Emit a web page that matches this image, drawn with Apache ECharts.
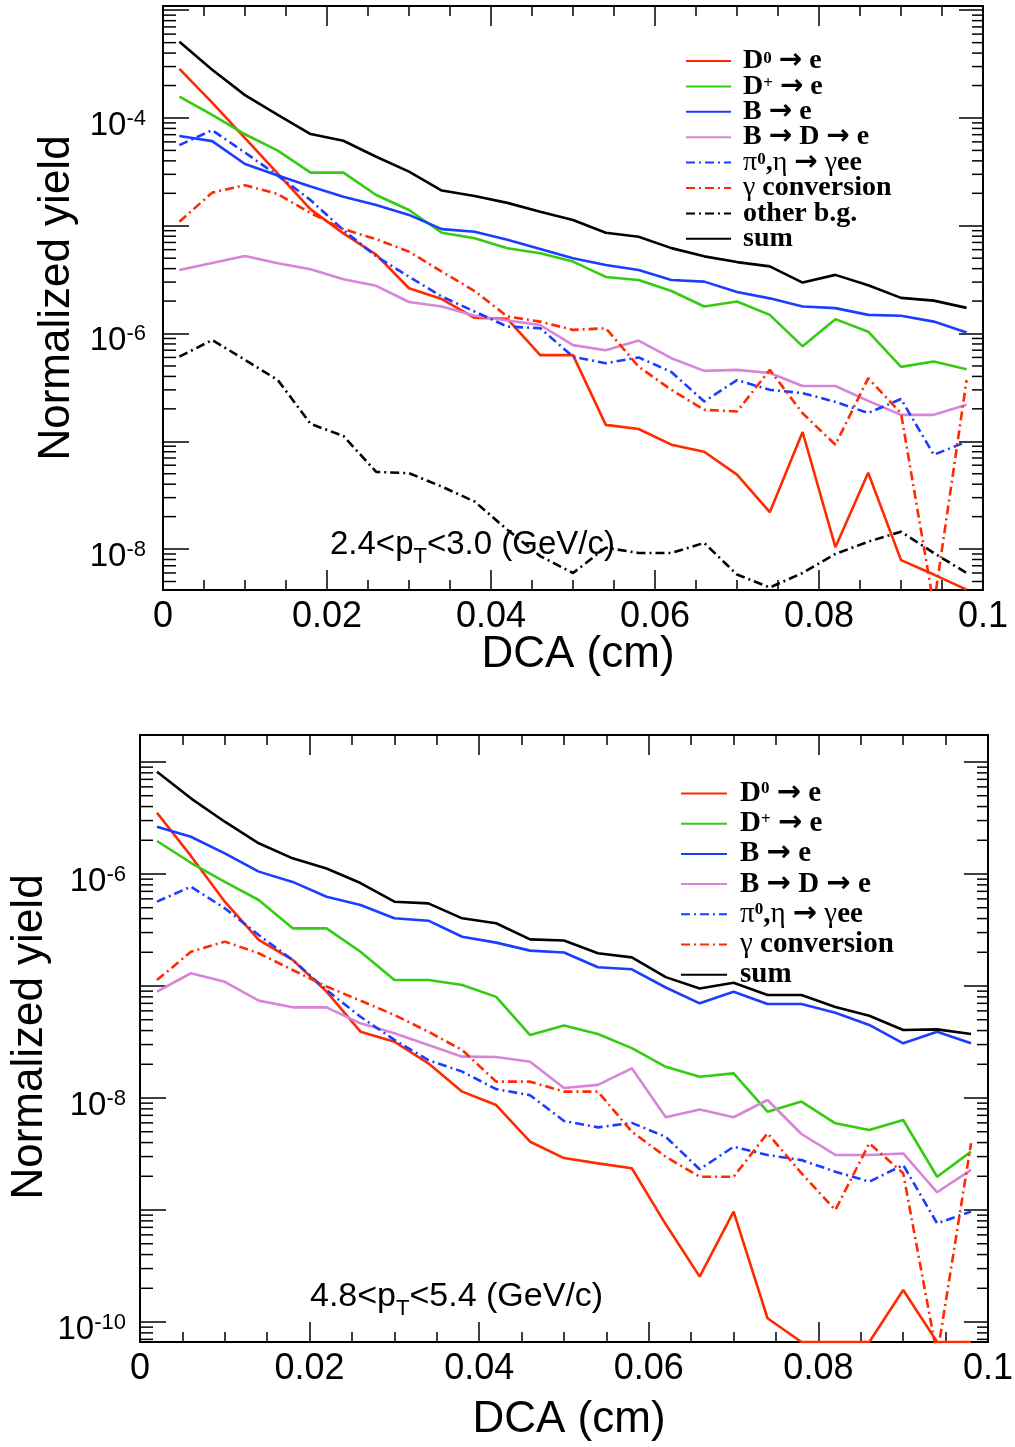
<!DOCTYPE html>
<html>
<head>
<meta charset="utf-8">
<script src="https://cdn.jsdelivr.net/npm/echarts@6/dist/echarts.min.js"></script>
<style>
html,body{margin:0;padding:0;background:#fff;}
#c{width:1015px;height:1447px;}
</style>
</head>
<body>
<div id="c"></div>
<script>
// ---------------- DATA ----------------
const dca = [0.002,0.006,0.010,0.014,0.018,0.022,0.026,0.030,0.034,0.038,0.042,0.046,0.050,
             0.054,0.058,0.062,0.066,0.070,0.074,0.078,0.082,0.086,0.090,0.094,0.098];
const xTickLabels = ['0','0.02','0.04','0.06','0.08','0.1'];

// 2.4 < pT < 3.0 GeV/c
const lowD0    = [2.85e-4,1.39e-4,6.5e-5,3.04e-5,1.42e-5,8.5e-6,5.4e-6,2.63e-6,2.09e-6,1.40e-6,1.37e-6,6.3e-7,6.3e-7,1.42e-7,1.30e-7,9.3e-8,8.0e-8,4.9e-8,2.2e-8,1.22e-7,1.04e-8,5.1e-8,7.9e-9,5.8e-9,4.2e-9];
const lowDp    = [1.58e-4,1.07e-4,7.06e-5,4.98e-5,3.11e-5,3.11e-5,1.93e-5,1.40e-5,8.6e-6,7.66e-6,6.18e-6,5.55e-6,4.65e-6,3.35e-6,3.14e-6,2.48e-6,1.78e-6,1.98e-6,1.49e-6,7.6e-7,1.36e-6,1.04e-6,4.9e-7,5.5e-7,4.67e-7];
const lowB     = [6.8e-5,6.1e-5,3.74e-5,2.93e-5,2.31e-5,1.86e-5,1.56e-5,1.26e-5,9.3e-6,8.8e-6,7.4e-6,6.1e-6,5.0e-6,4.33e-6,3.89e-6,3.14e-6,3.03e-6,2.43e-6,2.12e-6,1.78e-6,1.72e-6,1.49e-6,1.46e-6,1.29e-6,1.02e-6];
const lowBD    = [3.89e-6,4.52e-6,5.25e-6,4.49e-6,3.95e-6,3.19e-6,2.77e-6,1.96e-6,1.78e-6,1.46e-6,1.32e-6,1.20e-6,7.8e-7,7.0e-7,8.6e-7,5.9e-7,4.5e-7,4.6e-7,4.3e-7,3.26e-7,3.26e-7,2.37e-7,1.76e-7,1.76e-7,2.18e-7];
const lowPi    = [5.6e-5,7.7e-5,4.77e-5,2.92e-5,1.73e-5,9.1e-6,5.2e-6,3.37e-6,2.2e-6,1.6e-6,1.16e-6,1.12e-6,6.1e-7,5.3e-7,6.0e-7,4.4e-7,2.34e-7,3.7e-7,3.0e-7,2.8e-7,2.32e-7,1.83e-7,2.47e-7,7.5e-8,9.9e-8];
const lowGc    = [1.09e-5,2.03e-5,2.38e-5,1.97e-5,1.31e-5,9.3e-6,7.5e-6,5.75e-6,3.75e-6,2.48e-6,1.44e-6,1.29e-6,1.08e-6,1.12e-6,4.93e-7,3.0e-7,1.96e-7,1.89e-7,4.6e-7,1.82e-7,9.3e-8,3.85e-7,1.82e-7,3e-9,3.7e-7];
const lowOther = [6.1e-7,8.7e-7,5.7e-7,3.7e-7,1.45e-7,1.12e-7,5.2e-8,5.06e-8,3.8e-8,2.76e-8,1.51e-8,8.6e-9,6.0e-9,1.03e-8,9.2e-9,9.2e-9,1.14e-8,5.8e-9,4.4e-9,6.0e-9,9.0e-9,1.17e-8,1.45e-8,9.2e-9,6.0e-9];
const lowSum   = [5.1e-4,2.8e-4,1.63e-4,1.07e-4,7.1e-5,6.15e-5,4.37e-5,3.18e-5,2.12e-5,1.89e-5,1.63e-5,1.35e-5,1.13e-5,8.6e-6,7.9e-6,6.2e-6,5.2e-6,4.6e-6,4.2e-6,2.97e-6,3.5e-6,2.8e-6,2.14e-6,2.02e-6,1.73e-6];

// 4.8 < pT < 5.4 GeV/c
const highD0   = [3.52e-6,1.45e-6,5.66e-7,2.58e-7,1.71e-7,8.9e-8,3.91e-8,3.18e-8,2.04e-8,1.14e-8,8.65e-9,4.07e-9,2.91e-9,2.61e-9,2.36e-9,7.45e-10,2.54e-10,9.66e-10,1.08e-10,6.63e-11,6.63e-11,6.63e-11,1.93e-10,6.63e-11,6.63e-11];
const highDp   = [1.97e-6,1.26e-6,8.5e-7,5.86e-7,3.27e-7,3.27e-7,2.02e-7,1.13e-7,1.13e-7,1.02e-7,8.0e-8,3.65e-8,4.43e-8,3.73e-8,2.79e-8,1.90e-8,1.55e-8,1.66e-8,7.55e-9,9.3e-9,5.94e-9,5.18e-9,6.36e-9,1.98e-9,3.32e-9];
const highB    = [2.64e-6,2.15e-6,1.53e-6,1.05e-6,8.5e-7,6.27e-7,5.28e-7,4.02e-7,3.83e-7,2.75e-7,2.44e-7,2.07e-7,1.99e-7,1.47e-7,1.41e-7,9.7e-8,7.0e-8,8.9e-8,6.9e-8,6.9e-8,5.78e-8,4.49e-8,3.08e-8,3.91e-8,3.08e-8];
const highBD   = [8.9e-8,1.30e-7,1.09e-7,7.4e-8,6.45e-8,6.45e-8,4.64e-8,3.78e-8,2.97e-8,2.34e-8,2.32e-8,2.11e-8,1.23e-8,1.31e-8,1.84e-8,6.73e-9,7.9e-9,6.73e-9,9.6e-9,4.77e-9,3.1e-9,3.1e-9,3.2e-9,1.44e-9,2.28e-9];
const highPi   = [5.66e-7,7.7e-7,4.94e-7,2.85e-7,1.71e-7,9.2e-8,5.32e-8,3.3e-8,2.18e-8,1.72e-8,1.20e-8,1.06e-8,6.24e-9,5.47e-9,6.0e-9,4.5e-9,2.31e-9,3.67e-9,3.1e-9,2.79e-9,2.2e-9,1.79e-9,2.52e-9,7.6e-10,9.7e-10];
const highGc   = [1.13e-7,2.02e-7,2.49e-7,1.96e-7,1.39e-7,9.9e-8,7.4e-8,5.51e-8,3.91e-8,2.68e-8,1.40e-8,1.40e-8,1.14e-8,1.14e-8,5.0e-9,2.99e-9,1.98e-9,1.98e-9,4.84e-9,2.13e-9,1.0e-9,3.94e-9,2.13e-9,5e-11,3.94e-9];
const highSum  = [8.2e-6,4.74e-6,2.93e-6,1.88e-6,1.38e-6,1.12e-6,8.3e-7,5.66e-7,5.47e-7,4.02e-7,3.63e-7,2.61e-7,2.55e-7,1.96e-7,1.80e-7,1.20e-7,9.5e-8,1.07e-7,8.3e-8,8.3e-8,6.5e-8,5.43e-8,4.05e-8,4.1e-8,3.73e-8];

const seriesNames = ['D0 → e','D+ → e','B → e','B → D → e','π0,η → γee','γ conversion','other b.g.','sum'];
const legendRich = {
  'D0 → e':'{sp|}{t|D}{sup|0}{t| }{a|→}{t| e}',
  'D+ → e':'{sp|}{t|D}{sup|+}{t| }{a|→}{t| e}',
  'B → e':'{sp|}{t|B }{a|→}{t| e}',
  'B → D → e':'{sp|}{t|B }{a|→}{t| D }{a|→}{t| e}',
  'π0,η → γee':'{sp|}{g|π}{sup|0}{t|,}{g|η }{a|→}{g| γ}{t|ee}',
  'γ conversion':'{sp|}{g|γ}{t| conversion}',
  'other b.g.':'{sp|}{t|other b.g.}',
  'sum':'{sp|}{t|sum}'
};
const panelText = [
  '{n|2.4<p}{sub|T}{n|<3.0 (GeV/c)}',
  '{n|4.8<p}{sub|T}{n|<5.4 (GeV/c)}'
];

// ---------------- LAYOUT / STYLE ----------------
const G = [
  {left:163, top:6,   width:820, height:584, ymin:4.17e-9,  ymax:1.094e-3},
  {left:140, top:735, width:848, height:607, ymin:6.63e-11, ymax:1.742e-5}
];
const C = {red:'#ff2a00', green:'#33cc11', blue:'#1a3dff', pink:'#d884d8', black:'#000000'};
const DASHDOT = [9,4,2,4];
const SANS = '"Liberation Sans", Arial, Helvetica, sans-serif';
const SERIF = '"Liberation Serif", "Times New Roman", "DejaVu Serif", serif';
const ARROW = '"DejaVu Sans", sans-serif';

function xAxis(gi, pos, showLabel) {
  return {
    gridIndex: gi, type: 'value', min: 0, max: 0.1, interval: 0.02, position: pos,
    axisLine: {show: true, onZero: false, lineStyle: {color: '#000', width: 2}},
    axisTick: {show: true, inside: true, length: 20, lineStyle: {color: '#000', width: 1.5}},
    minorTick: {show: true, splitNumber: 4, length: 10, lineStyle: {color: '#000', width: 1.5}},
    splitLine: {show: false}, minorSplitLine: {show: false},
    axisLabel: {
      show: showLabel, margin: 9, color: '#000', fontFamily: SANS, fontSize: 36, lineHeight: 36,
      formatter: function (v) { const i = Math.round(v / 0.02); return xTickLabels[i] !== undefined ? xTickLabels[i] : ''; }
    }
  };
}
function yAxis(gi, pos, showLabel, margin) {
  return {
    gridIndex: gi, type: 'log', logBase: 10, min: G[gi].ymin, max: G[gi].ymax, position: pos,
    axisLine: {show: true, onZero: false, lineStyle: {color: '#000', width: 2}},
    axisTick: {show: true, inside: true, length: pos === 'left' ? 26 : 24, lineStyle: {color: '#000', width: 1.5}},
    splitLine: {show: false},
    axisLabel: {
      show: showLabel, interval: 0, margin: margin, padding: [15, 0, 0, 0],
      showMinLabel: false, showMaxLabel: false,
      formatter: function (v) {
        const l = Math.log10(v); const r = Math.round(l);
        if (Math.abs(l - r) > 1e-6 || Math.abs(r) % 2 !== 0) return '';
        return '{n|10}{s|' + r + '}';
      },
      rich: {
        n: {fontFamily: SANS, fontSize: 33, lineHeight: 36, color: '#000'},
        s: {fontFamily: SANS, fontSize: 22, lineHeight: 13, verticalAlign: 'top', color: '#000'}
      }
    }
  };
}
function line(name, gi, vals, color, dash) {
  return {
    name: name, type: 'line', xAxisIndex: gi * 2, yAxisIndex: gi * 2,
    data: dca.map(function (x, i) { return [x, vals[i]]; }),
    symbol: 'none', showSymbol: false, clip: true, animation: false,
    lineStyle: {color: color, width: 2.6, type: dash ? DASHDOT : 'solid'},
    itemStyle: {color: color}
  };
}
function legend(names, top, lh, gap, fs, left, iw, sp) {
  return {
    data: names, orient: 'vertical', left: left, top: top, padding: 0,
    itemGap: gap, itemWidth: iw, itemHeight: 12, selectedMode: false,
    itemStyle: {opacity: 0, borderWidth: 0},
    formatter: function (n) { return legendRich[n]; },
    textStyle: {
      lineHeight: lh, height: lh, fontSize: fs,
      rich: {
        sp: {width: sp, lineHeight: lh},
        t: {fontFamily: SERIF, fontWeight: 'bold', fontSize: fs, lineHeight: lh, color: '#000'},
        a: {fontFamily: ARROW, fontWeight: 'bold', fontSize: fs, lineHeight: lh, color: '#000'},
        g: {fontFamily: SERIF, fontWeight: 'normal', fontSize: fs, lineHeight: lh, color: '#000'},
        sup: {fontFamily: SERIF, fontWeight: 'bold', fontSize: Math.round(fs * 0.6), lineHeight: 7, verticalAlign: 'top', color: '#000'}
      }
    }
  };
}

const chart = echarts.init(document.getElementById('c'), null, {renderer: 'canvas'});
const option = {
  animation: false,
  backgroundColor: '#fff',
  grid: G.map(function (g) { return {left: g.left, top: g.top, width: g.width, height: g.height, containLabel: false, outerBoundsMode: 'none'}; }),
  xAxis: [xAxis(0, 'bottom', true), xAxis(0, 'top', false), xAxis(1, 'bottom', true), xAxis(1, 'top', false)],
  yAxis: [yAxis(0, 'left', true, 17), yAxis(0, 'right', false, 8), yAxis(1, 'left', true, 14), yAxis(1, 'right', false, 8)],
  legend: [
    legend(seriesNames, 47, 22, -2.6, 28, 685, 45, 7),
    legend(['D0 → e','D+ → e','B → e','B → D → e','π0,η → γee','γ conversion','sum'], 779, 26, 1.2, 29, 680, 46, 8)
  ],
  series: [
    line('D0 → e', 0, lowD0, C.red, false),
    line('D+ → e', 0, lowDp, C.green, false),
    line('B → e', 0, lowB, C.blue, false),
    line('B → D → e', 0, lowBD, C.pink, false),
    line('π0,η → γee', 0, lowPi, C.blue, true),
    line('γ conversion', 0, lowGc, C.red, true),
    line('other b.g.', 0, lowOther, C.black, true),
    line('sum', 0, lowSum, C.black, false),
    line('D0 → e', 1, highD0, C.red, false),
    line('D+ → e', 1, highDp, C.green, false),
    line('B → e', 1, highB, C.blue, false),
    line('B → D → e', 1, highBD, C.pink, false),
    line('π0,η → γee', 1, highPi, C.blue, true),
    line('γ conversion', 1, highGc, C.red, true),
    line('sum', 1, highSum, C.black, false)
  ]
};
chart.setOption(option);

// log-axis minor ticks (2..9 x 10^n), positioned via the axis scale
const gfx = [];
G.forEach(function (g, gi) {
  for (let e = -12; e <= -1; e++) {
    for (let m = 2; m <= 9; m++) {
      const v = m * Math.pow(10, e);
      if (v <= g.ymin || v >= g.ymax) continue;
      const py = chart.convertToPixel({yAxisIndex: gi * 2}, v);
      gfx.push({type: 'line', silent: true, shape: {x1: g.left, y1: py, x2: g.left + 13, y2: py}, style: {stroke: '#000', lineWidth: 1.5}});
      gfx.push({type: 'line', silent: true, shape: {x1: g.left + g.width - 11, y1: py, x2: g.left + g.width, y2: py}, style: {stroke: '#000', lineWidth: 1.5}});
    }
  }
});
function txt(x, y, text, font, rot) {
  return {type: 'text', x: x, y: y, rotation: rot || 0, silent: true,
    style: {text: text, font: font, fill: '#000', align: 'center', verticalAlign: 'middle', textAlign: 'center', textVerticalAlign: 'middle'}};
}
gfx.push(txt(57, 298, 'Normalized yield', '44px ' + SANS, Math.PI / 2));
gfx.push(txt(30, 1037, 'Normalized yield', '44px ' + SANS, Math.PI / 2));
gfx.push(txt(578, 655, 'DCA (cm)', '44px ' + SANS));
gfx.push(txt(569, 1420, 'DCA (cm)', '44px ' + SANS));
const annot = [{x: 330, y: 545, fs: 33}, {x: 310, y: 1297, fs: 34}];
annot.forEach(function (a, i) {
  gfx.push({type: 'text', x: a.x, y: a.y, silent: true,
    style: {text: panelText[i], align: 'left', verticalAlign: 'middle', textAlign: 'left', textVerticalAlign: 'middle',
      rich: {
        n: {fontFamily: SANS, fontSize: a.fs, lineHeight: 46, fill: '#000', color: '#000'},
        sub: {fontFamily: SANS, fontSize: 22, lineHeight: 6, verticalAlign: 'bottom', fill: '#000', color: '#000'}
      }}});
});
chart.setOption({graphic: gfx});
</script>
</body>
</html>
